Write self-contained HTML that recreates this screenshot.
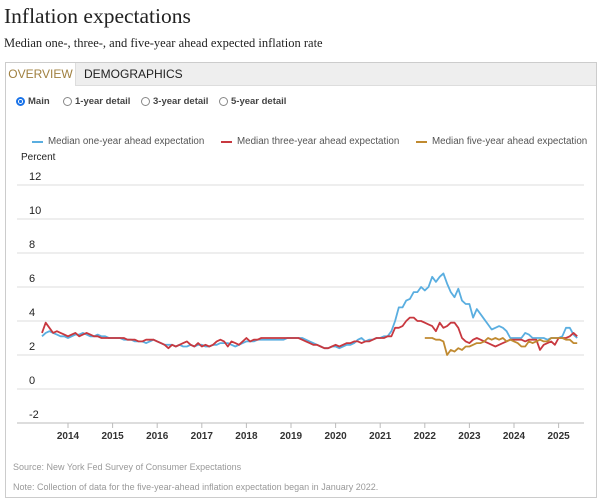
<!DOCTYPE html>
<html><head><meta charset="utf-8">
<style>
body{margin:0;width:600px;height:501px;background:#fff;overflow:hidden;font-family:"Liberation Sans",Arial,sans-serif;position:relative}
.abs{position:absolute}
#title{left:4px;top:4px;font:21.5px "Liberation Serif",serif;color:#222}
#sub{left:4px;top:36px;font:12.5px "Liberation Serif",serif;color:#222}
#panel{left:5px;top:62px;width:592px;height:436px;border:1px solid #ccc;box-sizing:border-box}
#tabbar{left:6px;top:63px;width:590px;height:22px;background:#eee;border-bottom:1px solid #ddd}
.tab{top:63px;height:23px;font-size:12px;line-height:22px}
.radio{top:96px;font-size:9.5px;color:#444;font-weight:bold;display:flex;align-items:center}
.rc{width:9px;height:9px;border:1px solid #888;border-radius:50%;margin-right:3px;box-sizing:border-box}
.leg{top:136px;font-size:9.8px;color:#555;display:flex;align-items:center}
.sw{width:11px;height:2px;margin-right:5px}
</style></head><body>
<div class="abs" id="title">Inflation expectations</div>
<div class="abs" id="sub">Median one-, three-, and five-year ahead expected inflation rate</div>
<div class="abs" id="panel"></div>
<div class="abs" id="tabbar"></div>
<div class="abs tab" style="left:6px;width:69px;background:#fff;color:#a08040;text-align:center;border-right:1px solid #ddd">OVERVIEW</div>
<div class="abs tab" style="left:84px;color:#222">DEMOGRAPHICS</div>
<div class="abs radio" style="left:16px"><span class="rc" style="border:2px solid #1a73e8;background:radial-gradient(#1a73e8 45%,#fff 50%)"></span>Main</div>
<div class="abs radio" style="left:63px"><span class="rc"></span>1-year detail</div>
<div class="abs radio" style="left:141px"><span class="rc"></span>3-year detail</div>
<div class="abs radio" style="left:219px"><span class="rc"></span>5-year detail</div>
<div class="abs leg" style="left:32px"><span class="sw" style="background:#5aaee0"></span>Median one-year ahead expectation</div>
<div class="abs leg" style="left:221px"><span class="sw" style="background:#c8383f"></span>Median three-year ahead expectation</div>
<div class="abs leg" style="left:416px"><span class="sw" style="background:#c08a30"></span>Median five-year ahead expectation</div>
<div class="abs" style="left:21px;top:152px;font-size:10px;color:#222">Percent</div>
<svg class="abs" style="left:0;top:0" width="600" height="501" id="chart"></svg>
<div class="abs" style="left:13px;top:462px;font-size:9px;color:#999">Source: New York Fed Survey of Consumer Expectations</div>
<div class="abs" style="left:13px;top:482px;font-size:9px;color:#999">Note: Collection of data for the five-year-ahead inflation expectation began in January 2022.</div>
<script>
const yTicks=[12,10,8,6,4,2,0,-2];
const years=[2014,2015,2016,2017,2018,2019,2020,2021,2022,2023,2024,2025];
const oneYear=[3.1,3.3,3.4,3.3,3.2,3.1,3.1,
3.0,3.1,3.2,3.2,3.3,3.2,3.1,3.1,3.2,3.1,3.1,3.0,
3.0,3.0,3.0,2.9,2.9,2.9,2.8,2.8,2.8,2.7,2.8,2.9,
2.8,2.7,2.6,2.6,2.6,2.5,2.6,2.5,2.5,2.6,2.5,2.6,
2.6,2.5,2.5,2.6,2.6,2.7,2.7,2.7,2.6,2.5,2.6,2.7,
2.8,2.8,2.8,2.9,2.9,2.9,2.9,2.9,2.9,2.9,2.9,3.0,
3.0,3.0,3.0,3.0,2.9,2.8,2.7,2.6,2.5,2.4,2.4,2.5,
2.5,2.4,2.5,2.6,2.6,2.7,2.9,3.0,2.8,2.9,2.9,3.0,
3.0,3.1,3.1,3.4,4.0,4.8,4.8,5.2,5.3,5.7,5.7,6.0,
5.8,6.0,6.6,6.3,6.6,6.8,6.2,5.7,5.4,5.9,5.2,5.0,
5.0,4.2,4.7,4.4,4.1,3.8,3.5,3.6,3.7,3.6,3.4,3.0,
3.0,3.0,3.0,3.3,3.2,3.0,3.0,3.0,3.0,2.9,3.0,3.0,
3.0,3.1,3.6,3.6,3.2,3.0];
const threeYear=[3.3,3.9,3.6,3.3,3.4,3.3,3.2,
3.1,3.2,3.3,3.1,3.2,3.3,3.2,3.1,3.1,3.0,3.0,3.0,
3.0,3.0,3.0,3.0,2.9,2.9,2.9,2.8,2.8,2.9,2.9,2.9,
2.8,2.7,2.6,2.4,2.6,2.5,2.6,2.7,2.8,2.6,2.5,2.7,
2.5,2.6,2.5,2.6,2.8,2.9,2.8,2.5,2.8,2.7,2.6,2.8,
3.0,2.8,2.9,2.9,3.0,3.0,3.0,3.0,3.0,3.0,3.0,3.0,
3.0,3.0,3.0,2.9,2.8,2.7,2.6,2.6,2.5,2.4,2.4,2.5,
2.6,2.5,2.6,2.7,2.7,2.8,2.8,2.7,2.8,2.8,2.9,3.0,
3.0,3.0,3.1,3.1,3.6,3.6,3.7,4.0,4.2,4.2,4.0,4.0,
3.9,3.8,3.7,3.4,3.9,3.6,3.7,3.9,3.9,3.6,3.0,2.8,
2.7,2.9,3.0,2.9,2.8,2.7,2.6,2.5,2.6,2.7,2.8,2.9,
2.9,2.9,2.9,2.8,2.9,2.9,2.9,2.3,2.6,2.7,2.8,2.6,
3.0,3.0,3.0,3.1,3.3,3.1];
const fiveYear=[3.0,3.0,3.0,2.9,2.9,2.8,2.0,2.3,2.2,2.4,2.3,2.5,
2.5,2.6,2.7,2.7,2.8,3.0,2.9,3.0,2.9,3.0,2.8,2.9,
2.8,2.7,2.5,2.5,2.8,2.7,2.8,2.9,2.8,2.8,3.0,3.0,
3.0,3.0,2.9,2.9,2.7,2.7];
const NS='http://www.w3.org/2000/svg';
const svg=document.getElementById('chart');
const x=t=>68+(t-2014)*44.6;
const y=v=>389-v*17;
const L=17,R=584;
function mk(tag,at){const e=document.createElementNS(NS,tag);for(const k in at)e.setAttribute(k,at[k]);svg.appendChild(e);return e;}
yTicks.forEach(v=>{
 const g=mk('line',{x1:L,x2:R,y1:y(v),y2:y(v),stroke:v===-2?'#bbb':'#ddd','stroke-width':1});
 
 
 const t=mk('text',{x:29,y:y(v)-5,'font-size':11,'text-anchor':'start',fill:'#222','font-family':'Liberation Sans, sans-serif'});
 t.textContent=v;
 
 
});
years.forEach(yr=>{
 const tk=mk('line',{x1:x(yr),x2:x(yr),y1:y(-2),y2:y(-2)+5,stroke:'#bbb'});
 
 
 const t=mk('text',{x:x(yr),y:439,'font-size':10,'font-weight':'bold','text-anchor':'middle',fill:'#333','font-family':'Liberation Sans, sans-serif'});
 t.textContent=yr;
 
 
});
function series(vals,start,color,name){
 const pts=vals.map((v,i)=>x(start+i/12).toFixed(1)+','+y(v).toFixed(1)).join(' ');
 const p=mk('polyline',{points:pts,fill:'none',stroke:color,'stroke-width':1.8,'stroke-linejoin':'round'});
 
 
}
series(oneYear,2013+5/12,'#5aaee0','one-year-line');
series(threeYear,2013+5/12,'#c8383f','three-year-line');
series(fiveYear,2022,'#c08a30','five-year-line');
</script>
</body></html>
